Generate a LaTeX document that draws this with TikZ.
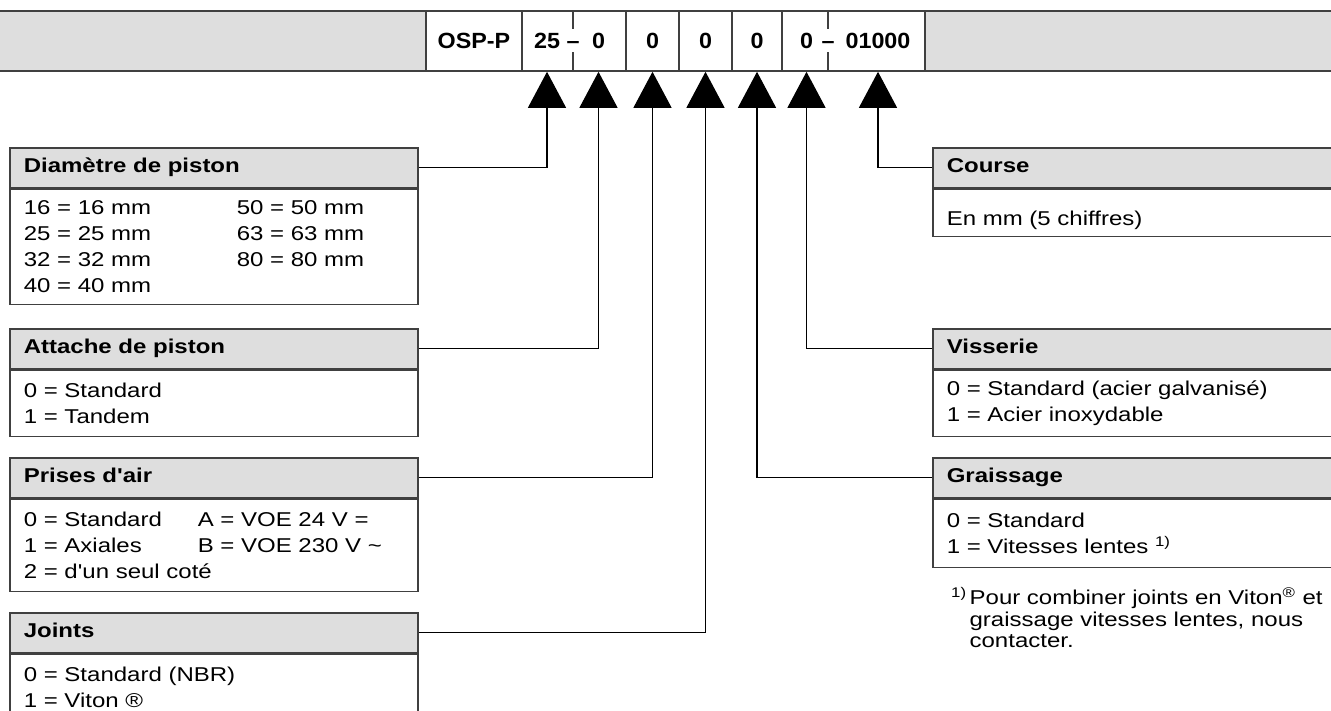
\documentclass[tikz,border=0pt]{standalone}
\usepackage{fontspec}
\newfontfamily\diagfont[FakeStretch=1.2]{Liberation Sans}
\newfontfamily\codefont[FakeStretch=1.06]{Liberation Sans}
\usepackage{xcolor}
\definecolor{boxgray}{RGB}{222,222,222}
\definecolor{framegray}{RGB}{64,64,64}
\usetikzlibrary{
    arrows.meta,
    positioning
}
\tikzstyle{link} = [
    line width=1.2pt,
    -{Triangle[width=38pt,length=36pt]}
]

\begin{document}
\begin{tikzpicture}[
  x=1pt, y=-1pt,
  barline/.style={draw=framegray, line width=1.6pt},
  cell/.style={barline, fill=white, minimum height=60pt, inner sep=0pt,
    text height=16pt, text depth=0pt, font=\codefont\fontsize{22}{24}\selectfont\bfseries},
  code/.style={inner sep=0pt, text height=16pt, text depth=0pt,
    font=\codefont\fontsize{22}{24}\selectfont\bfseries},
  boxhead/.style={draw=framegray, line width=1.6pt, fill=boxgray, text width=380pt,
    inner xsep=14pt, inner ysep=0pt, minimum height=40pt, text height=14pt, text depth=4pt,
    align=left, font=\diagfont\fontsize{20}{26}\selectfont\bfseries},
  boxbody/.style={draw=framegray, line width=1.6pt, fill=white, text width=380pt,
    inner xsep=14pt, inner ysep=0pt, align=left, font=\diagfont\fontsize{20}{26}\selectfont}
]
\useasboundingbox (0,0) rectangle (1331,711);

% order code bar
\draw[barline, fill=boxgray] (-5,11) rectangle (1336,71);
\node[cell, minimum width=96pt] (cosp) at (474,41) {OSP-P};
\node[cell, minimum width=104pt] (c1) at (574,41) {};
\node[cell, minimum width=53pt] (cair) at (652.5,41) {0};
\node[cell, minimum width=53pt] (cjoi) at (705.5,41) {0};
\node[cell, minimum width=50pt] (cgra) at (757,41) {0};
\node[cell, minimum width=143pt] (c2) at (853.5,41) {};
\node[code] (kdia) at (547,41) {25};
\node[code] (kd1)  at (573,41) {–};
\node[code] (katt) at (598.5,41) {0};
\node[code] (kvis) at (806.5,41) {0};
\node[code] (kd2)  at (828,41) {–};
\node[code] (kcou) at (878,41) {01000};
\draw[barline] (kd1 |- c1.north) -- ++(0,19);
\draw[barline] (kd1 |- c1.south) -- ++(0,-20);
\draw[barline] (kd2 |- c2.north) -- ++(0,19);
\draw[barline] (kd2 |- c2.south) -- ++(0,-20);

% left boxes
\node[boxhead, anchor=north west] (diamh) at (9,147) {Diamètre de piston};
\node[boxbody, below=0pt of diamh, minimum height=115pt] (diamb)
  {\makebox[213pt][l]{16 = 16 mm}50 = 50 mm\\
   \makebox[213pt][l]{25 = 25 mm}63 = 63 mm\\
   \makebox[213pt][l]{32 = 32 mm}80 = 80 mm\\
   40 = 40 mm};
\node[boxhead, anchor=north west] (atth) at (9,328) {Attache de piston};
\node[boxbody, below=0pt of atth, minimum height=66pt] (attb) {0 = Standard\\1 = Tandem};
\node[boxhead, anchor=north west] (airh) at (9,457) {Prises d'air};
\node[boxbody, below=0pt of airh, minimum height=92pt] (airb)
  {\makebox[174pt][l]{0 = Standard}A = VOE 24 V =\\
   \makebox[174pt][l]{1 = Axiales}B = VOE 230 V \textasciitilde\\
   2 = d'un seul coté};
\node[boxhead, anchor=north west] (joih) at (9,612) {Joints};
\node[boxbody, below=0pt of joih, minimum height=66pt] (joib) {0 = Standard (NBR)\\1 = Viton ®};

% right boxes
\node[boxhead, anchor=north west] (couh) at (932,147) {Course};
\node[boxbody, below=0pt of couh, minimum height=47pt, text height=31pt, text depth=5pt] (coub)
  {En mm (5 chiffres)};
\node[boxhead, anchor=north west] (vish) at (932,328) {Visserie};
\node[boxbody, below=0pt of vish, minimum height=66pt] (visb)
  {0 = Standard (acier galvanisé)\\1 = Acier inoxydable};
\node[boxhead, anchor=north west] (grah) at (932,457) {Graissage};
\node[boxbody, below=0pt of grah, minimum height=68pt] (grab)
  {0 = Standard\\1 = Vitesses lentes \textsuperscript{1)}};
\node[anchor=north west, inner sep=0pt, font=\diagfont\fontsize{20}{21.5}\selectfont] (note) at (951,587)
  {\begin{tabular}{@{}l@{\hspace{3pt}}l@{}}
   \textsuperscript{1)} & Pour combiner joints en Viton\textsuperscript{®}\hspace{7pt}et\\
   & graissage vitesses lentes, nous\\
   & contacter.
   \end{tabular}};

% connectors
\draw[link] (diamh.east) -| (kdia |- c1.south);
\draw[link] (atth.east)  -| (katt |- c1.south);
\draw[link] (airh.east)  -| (cair.south);
\draw[link] (joih.east)  -| (cjoi.south);
\draw[link] (grah.west)  -| (cgra.south);
\draw[link] (vish.west)  -| (kvis |- c2.south);
\draw[link] (couh.west)  -| (kcou |- c2.south);

\end{tikzpicture}
\end{document}
